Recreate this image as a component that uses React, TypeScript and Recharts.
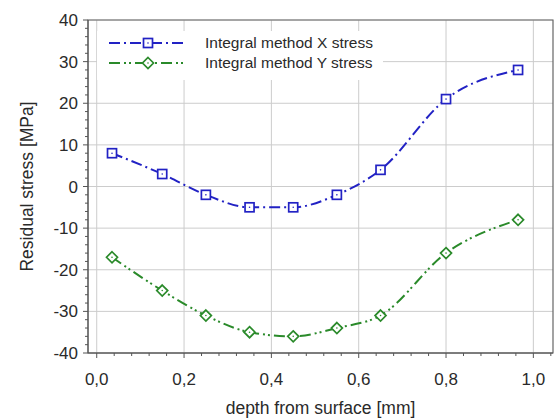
import {
  CartesianGrid,
  Legend,
  Line,
  LineChart,
  ReferenceArea,
  XAxis,
  YAxis,
} from 'recharts'

const depth = [0.035, 0.15, 0.25, 0.35, 0.45, 0.55, 0.65, 0.8, 0.965]
const xStress = [8, 3, -2, -5, -5, -2, 4, 21, 28]
const yStress = [-17, -25, -31, -35, -36, -34, -31, -16, -8]

const xMajor = [0, 0.2, 0.4, 0.6, 0.8, 1.0]
const yMajor = [-40, -30, -20, -10, 0, 10, 20, 30, 40]
// minor ticks: every 0.04 mm and every 2 MPa
const xMinor = Array.from({ length: 27 }, (_, i) => +(i * 0.04).toFixed(2))
const yMinor = Array.from({ length: 41 }, (_, i) => -40 + i * 2)

const X_DOMAIN: [number, number] = [-0.02, 1.045]

const data = depth.map((d, i) => ({ depth: d, x: xStress[i], y: yStress[i] }))

const BLUE = '#2222c4'
const GREEN = '#2a8a2a'
const TEXT = '#2a2a2a'
const AXIS = '#555'
const FONT = '"Liberation Sans", Arial, sans-serif'

const isMajorX = (v: number) => Math.abs(v * 5 - Math.round(v * 5)) < 1e-6
const isMajorY = (v: number) => v % 10 === 0

function XTick({ x, y, payload }: any) {
  const v = payload.value as number
  const major = isMajorX(v)
  return (
    <g>
      <line x1={x} x2={x} y1={y} y2={y + (major ? 5 : 3)} stroke={AXIS} />
      {major && (
        <text x={x} y={y + 32} textAnchor="middle" fill={TEXT} fontSize={17} fontFamily={FONT}>
          {v.toFixed(1).replace('.', ',')}
        </text>
      )}
    </g>
  )
}

function YTick({ x, y, payload }: any) {
  const v = payload.value as number
  const major = isMajorY(v)
  return (
    <g>
      <line x1={x} x2={x - (major ? 5 : 3)} y1={y} y2={y} stroke={AXIS} />
      {major && (
        <text x={x - 10} y={y + 6} textAnchor="end" fill={TEXT} fontSize={17} fontFamily={FONT}>
          {v}
        </text>
      )}
    </g>
  )
}

function SquareDot({ cx, cy }: any) {
  if (cx == null || cy == null) return null
  return (
    <g>
      <rect x={cx - 4.5} y={cy - 4.5} width={9} height={9} fill="#fff" stroke={BLUE} strokeWidth={1.7} />
      <circle cx={cx} cy={cy} r={0.8} fill={BLUE} />
    </g>
  )
}

function DiamondDot({ cx, cy }: any) {
  if (cx == null || cy == null) return null
  const r = 5.5
  return (
    <g>
      <path
        d={`M${cx},${cy - r}L${cx + r},${cy}L${cx},${cy + r}L${cx - r},${cy}Z`}
        fill="#fff"
        stroke={GREEN}
        strokeWidth={1.7}
      />
      <circle cx={cx} cy={cy} r={0.8} fill={GREEN} />
    </g>
  )
}

const legendRows = [
  { label: 'Integral method X stress', color: BLUE, dash: '11 4 2 4', Dot: SquareDot },
  { label: 'Integral method Y stress', color: GREEN, dash: '11 4 2 3 2 4', Dot: DiamondDot },
]

function LegendBox() {
  return (
    <div style={{ background: '#fff', width: 286, height: 49, position: 'relative' }}>
      {legendRows.map((row, i) => (
        <div key={row.label} style={{ position: 'absolute', left: 0, top: 2 + i * 20, height: 20, width: 286 }}>
          <svg width={100} height={20} style={{ position: 'absolute', left: 0, top: 0 }}>
            <line x1={12} x2={86} y1={10} y2={10} stroke={row.color} strokeWidth={2} strokeDasharray={row.dash} />
            <row.Dot cx={51} cy={10} />
          </svg>
          <span
            style={{
              position: 'absolute',
              left: 108,
              top: 0,
              lineHeight: '20px',
              fontSize: 15.5,
              fontFamily: FONT,
              color: TEXT,
              whiteSpace: 'nowrap',
            }}
          >
            {row.label}
          </span>
        </div>
      ))}
    </div>
  )
}

export default function App() {
  return (
    <div style={{ position: 'absolute', left: 0, top: 0, width: 558, height: 420, background: '#fff' }}>
      <LineChart width={558} height={420} data={data} margin={{ top: 20, right: 5, bottom: 0, left: 0 }}>
        <CartesianGrid
          stroke="#cccccc"
          verticalValues={xMajor}
          horizontalValues={yMajor}
        />
        <XAxis
          dataKey="depth"
          type="number"
          domain={X_DOMAIN}
          allowDataOverflow
          ticks={xMinor}
          interval={0}
          height={67}
          tickSize={0}
          tickMargin={0}
          tickLine={false}
          tick={<XTick />}
          axisLine={{ stroke: AXIS }}
          label={{
            value: 'depth from surface [mm]',
            position: 'insideBottom',
            offset: 6,
            fill: TEXT,
            fontSize: 17.5,
            fontFamily: FONT,
          }}
        />
        <YAxis
          type="number"
          domain={[-40, 40]}
          allowDataOverflow
          ticks={yMinor}
          interval={0}
          width={88}
          tickSize={0}
          tickMargin={0}
          tickLine={false}
          tick={<YTick />}
          axisLine={{ stroke: AXIS }}
          label={{
            value: 'Residual stress [MPa]',
            angle: -90,
            position: 'insideLeft',
            offset: 27,
            fill: TEXT,
            fontSize: 17.5,
            fontFamily: FONT,
            style: { textAnchor: 'middle' },
          }}
        />
        <ReferenceArea x1={X_DOMAIN[0]} x2={X_DOMAIN[1]} y1={-40} y2={40} fill="none" stroke="#666" strokeWidth={1.2} />
        <Legend
          layout="vertical"
          align="center"
          verticalAlign="middle"
          content={() => <LegendBox />}
          wrapperStyle={{ left: 97, top: 31, width: 286, height: 49 }}
        />
        <Line
          type="monotone"
          dataKey="x"
          name="Integral method X stress"
          stroke={BLUE}
          strokeWidth={2}
          strokeDasharray="11 4 2 4"
          dot={<SquareDot />}
          activeDot={false}
          isAnimationActive={false}
        />
        <Line
          type="monotone"
          dataKey="y"
          name="Integral method Y stress"
          stroke={GREEN}
          strokeWidth={2}
          strokeDasharray="11 4 2 3 2 4"
          dot={<DiamondDot />}
          activeDot={false}
          isAnimationActive={false}
        />
      </LineChart>
    </div>
  )
}
